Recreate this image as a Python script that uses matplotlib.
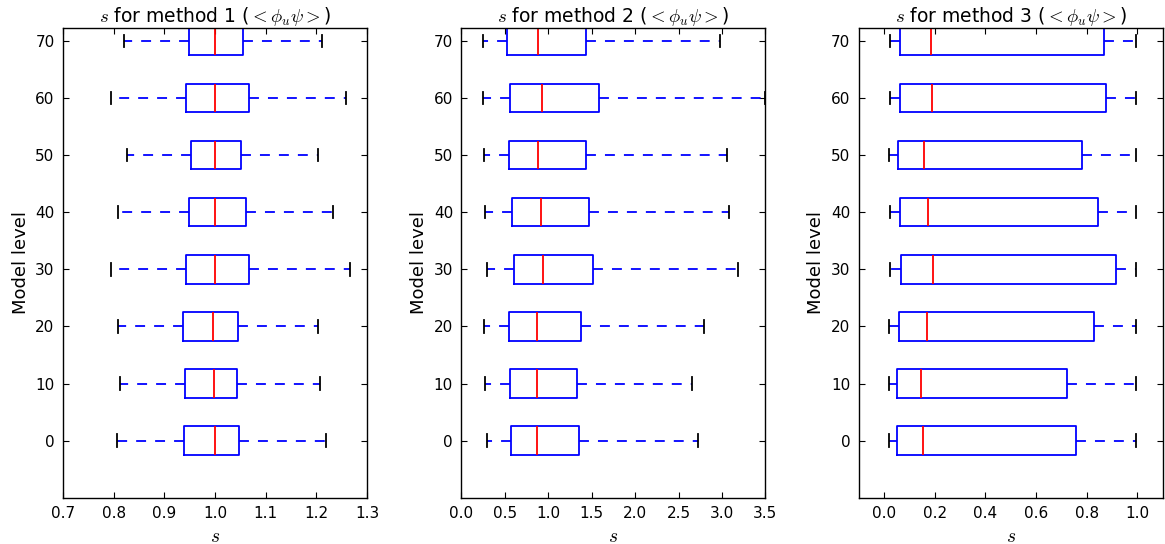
import matplotlib
matplotlib.use("Agg")
import matplotlib.pyplot as plt

plt.rcParams['mathtext.fontset'] = 'cm'
plt.rcParams['font.family'] = ['DejaVu Sans']

levels = [0, 10, 20, 30, 40, 50, 60, 70]

# method 1
m1_lo  = [0.807, 0.812, 0.809, 0.795, 0.809, 0.826, 0.795, 0.820]
m1_q1  = [0.939, 0.941, 0.937, 0.943, 0.949, 0.953, 0.943, 0.949]
m1_med = [1.000, 0.998, 0.996, 1.000, 1.000, 1.000, 1.000, 1.000]
m1_q3  = [1.047, 1.043, 1.045, 1.067, 1.061, 1.051, 1.067, 1.055]
m1_hi  = [1.219, 1.207, 1.203, 1.266, 1.233, 1.203, 1.258, 1.211]

# method 2
m2_lo  = [0.30, 0.276, 0.265, 0.30, 0.276, 0.265, 0.25, 0.253]
m2_q1  = [0.576, 0.564, 0.553, 0.61, 0.587, 0.55, 0.564, 0.53]
m2_med = [0.875, 0.875, 0.875, 0.944, 0.92, 0.886, 0.93, 0.886]
m2_q3  = [1.36, 1.335, 1.38, 1.52, 1.47, 1.43, 1.58, 1.44]
m2_hi  = [2.72, 2.66, 2.79, 3.18, 3.085, 3.06, 3.49, 2.98]

# method 3
m3_lo  = [0.02, 0.02, 0.02, 0.024, 0.022, 0.02, 0.024, 0.024]
m3_q1  = [0.051, 0.051, 0.059, 0.067, 0.063, 0.055, 0.063, 0.063]
m3_med = [0.154, 0.146, 0.17, 0.193, 0.173, 0.16, 0.19, 0.185]
m3_q3  = [0.756, 0.724, 0.83, 0.917, 0.846, 0.783, 0.878, 0.87]
m3_hi  = [0.995, 0.995, 0.995, 0.995, 0.995, 0.995, 0.995, 0.995]

titles = [r'$s$ for method 1 ($<\phi_u\psi>$)',
          r'$s$ for method 2 ($<\phi_u\psi>$)',
          r'$s$ for method 3 ($<\phi_u\psi>$)']
xlims = [(0.7, 1.3), (0.0, 3.5), (-0.1, 1.1)]
xticks = [[0.7, 0.8, 0.9, 1.0, 1.1, 1.2, 1.3],
          [0.0, 0.5, 1.0, 1.5, 2.0, 2.5, 3.0, 3.5],
          [0.0, 0.2, 0.4, 0.6, 0.8, 1.0]]

data = [(m1_lo, m1_q1, m1_med, m1_q3, m1_hi),
        (m2_lo, m2_q1, m2_med, m2_q3, m2_hi),
        (m3_lo, m3_q1, m3_med, m3_q3, m3_hi)]

fig = plt.figure(figsize=(11.65, 5.44), dpi=100)
lefts = [0.054, 0.396, 0.737]
for i in range(3):
    ax = fig.add_axes([lefts[i], 0.085, 0.261, 0.864])
    lo, q1, med, q3, hi = data[i]
    stats = [dict(whislo=lo[k], q1=q1[k], med=med[k], q3=q3[k], whishi=hi[k],
                  fliers=[]) for k in range(len(levels))]
    ax.bxp(stats, positions=levels, widths=5, vert=False, showfliers=False,
           capwidths=2.2,
           boxprops=dict(color='blue', linewidth=1.3),
           medianprops=dict(color='red', linewidth=1.3),
           whiskerprops=dict(color='blue', linestyle='--', linewidth=1.3, dashes=(5.5, 5)),
           capprops=dict(color='black', linewidth=1.3))
    ax.set_ylim(-10, 72.3)
    ax.set_yticks(levels)
    ax.set_yticklabels([str(v) for v in levels])
    ax.set_xlim(*xlims[i])
    ax.set_xticks(xticks[i])
    ax.set_xticklabels([f'{v:.1f}' for v in xticks[i]])
    ax.tick_params(direction='in', top=True, right=True, labelsize=11, length=4, pad=6)
    for sp in ax.spines.values():
        sp.set_linewidth(1.0)
    ax.set_title(titles[i], fontsize=13.5, pad=4)
    ax.set_xlabel(r'$s$', fontsize=14)
    ax.set_ylabel('Model level', fontsize=13)

fig.savefig('out.png', dpi=100)
